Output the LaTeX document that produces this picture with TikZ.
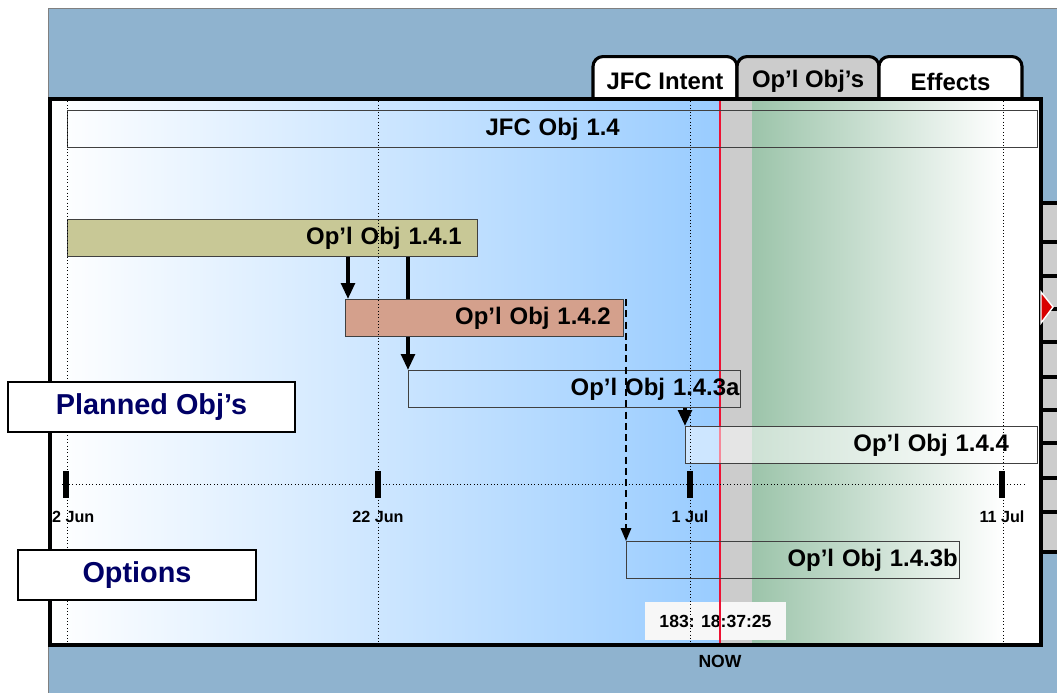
\documentclass[tikz,border=0pt]{standalone}
\usepackage{fontspec}
\setmainfont{Liberation Sans}
\usetikzlibrary{positioning,arrows.meta,calc}

\definecolor{frameblue}{HTML}{8FB3CF}
\definecolor{skyblue}{HTML}{99CCFF}
\definecolor{sagegreen}{HTML}{9CC4AA}
\definecolor{bandgray}{HTML}{CCCCCC}
\definecolor{khaki}{HTML}{C8C896}
\definecolor{salmon}{HTML}{D4A08C}
\definecolor{nowred}{HTML}{EE1133}
\definecolor{navy}{HTML}{000066}

\begin{document}
\begin{tikzpicture}[
    x=0.025cm, y=-0.025cm,
    big/.style={font=\fontsize{17}{20}\selectfont\bfseries},
    small/.style={font=\fontsize{11.5}{13}\selectfont\bfseries},
    tab/.style={draw, line width=2.2pt, rounded corners=0.25cm, minimum height=1.25cm, anchor=north, big},
    bar/.style={draw=black!75, line width=0.8pt, anchor=north west, minimum height=0.925cm, inner ysep=1pt, align=right, big},
    labelbox/.style={draw, fill=white, line width=0.8pt, minimum height=1.25cm, text=navy, font=\fontsize{20.5}{24}\selectfont\bfseries},
    tick/.style={fill=black, minimum width=0.15cm, minimum height=0.675cm, inner sep=0pt},
    datelabel/.style={small, inner sep=0pt, below=0.32cm of #1},
    gridline/.style={dotted, thin},
    arrow/.style={-{Triangle[length=0.4cm, width=0.34cm]}, line width=2.6pt},
    link/.style={line width=2.6pt},
    dasharrow/.style={-{Triangle[length=0.32cm, width=0.26cm]}, line width=1.1pt, dash pattern=on 5pt off 3pt}
]
    \useasboundingbox (0,0) rectangle (1057,692);
    \clip (0,0) rectangle (1057,692);

    % Frame
    \fill[frameblue, draw=gray, line width=0.6pt] (48,8) rectangle (1070,700);

    % Tabs
    \node[tab, fill=white, minimum width=3.6cm] (intent) at (665,55) {JFC Intent};
    \node[tab, fill=bandgray, minimum width=3.55cm] (objs) at (808,55) {Op'l Obj's};
    \node[tab, fill=white, minimum width=3.575cm] (effects) at (950.5,55) {Effects};

    % Background
    \fill[white] (50,98.5) rectangle (1041,645);
    \shade[left color=white, right color=skyblue] (52,100) rectangle (720,643);
    \fill[bandgray] (720,100) rectangle (752,643);
    \shade[left color=sagegreen, right color=white] (752,100) rectangle (1003,643);

    % Clock
    \node[fill=black!3, minimum width=3.525cm, minimum height=0.95cm, font=\fontsize{12.5}{14}\selectfont\bfseries] (clock) at (715.5,621) {183: 18:37:25};

    % Now line
    \draw[nowred, line width=2pt] (720,98) -- (720,645);

    % Nodes
    \node[bar, minimum width=24.25cm, text width=23.65cm, align=center] (jfc) at (67,110) {JFC Obj 1.4};
    \node[bar, fill=khaki, text width=9.45cm, inner xsep=0.4cm] (op141) at (67,219) {Op'l Obj 1.4.1};
    \node[bar, fill=salmon, text width=6.3cm, inner xsep=0.325cm] (op142) at (345,299) {Op'l Obj 1.4.2};
    \node[bar, text width=8.24cm, inner xsep=0.03cm] (op143a) at (408,370) {Op'l Obj 1.4.3a};
    \node[bar, fill=white, fill opacity=0.5, text opacity=1, text width=7.36cm, inner xsep=0.72cm] (op144) at (685,426) {Op'l Obj 1.4.4};
    \node[bar, text width=8.225cm, inner xsep=0.05cm] (op143b) at (626,541) {Op'l Obj 1.4.3b};

    % Grid
    \draw[gridline] (67,98) -- (67,645) (378,98) -- (378,645) (690,98) -- (690,645) (1003,98) -- (1003,645);
    \draw[gridline] (62,484) -- (1027,484);

    % Ticks and dates
    \node[tick] (t1) at (66,484) {};
    \node[tick] (t2) at (378,484) {};
    \node[tick] (t3) at (690,484) {};
    \node[tick] (t4) at (1002,484) {};
    \node[datelabel=t1, xshift=0.18cm] (d1) {2 Jun};
    \node[datelabel=t2] (d2) {22 Jun};
    \node[datelabel=t3] (d3) {1 Jul};
    \node[datelabel=t4] (d4) {11 Jul};

    % Arrows
    \coordinate (drop) at ($(op142.north west)+(3,0)$);
    \draw[arrow] (drop |- op141.south) -- (drop);
    \draw[link] (op143a.north west |- op141.south) -- (op143a.north west |- op142.north);
    \draw[arrow] (op143a.north west |- op142.south) -- (op143a.north west);
    \draw[arrow] (op144.north west |- op143a.south) -- (op144.north west);
    \draw[dasharrow] (op143b.north west |- op142.north) -- (op143b.north west);

    % Frame border
    \draw[line width=0.1cm] (50,98.5) rectangle (1041,645);

    % Slider on the right
    \fill[bandgray] (1041,203) rectangle (1060,552);
    \draw[line width=0.1cm] (1060,203) -| (1041,552) -- (1060,552)
        (1041,242) -- (1060,242) (1041,276) -- (1060,276) (1041,309) -- (1060,309)
        (1041,342) -- (1060,342) (1041,377) -- (1060,377) (1041,410) -- (1060,410)
        (1041,443) -- (1060,443) (1041,478) -- (1060,478) (1041,512) -- (1060,512);
    \fill[red!85!black, draw=white, line width=1pt] (1041,292) -- (1053,307) -- (1041,323) -- cycle;

    % Labels
    \node[labelbox, minimum width=7.175cm] (planned) at (151.5,407) {Planned Obj's};
    \node[labelbox, minimum width=5.95cm] (options) at (137,575) {Options};
    \node[font=\fontsize{12.5}{14}\selectfont\bfseries] (now) at (720,661) {NOW};

\end{tikzpicture}
\end{document}
